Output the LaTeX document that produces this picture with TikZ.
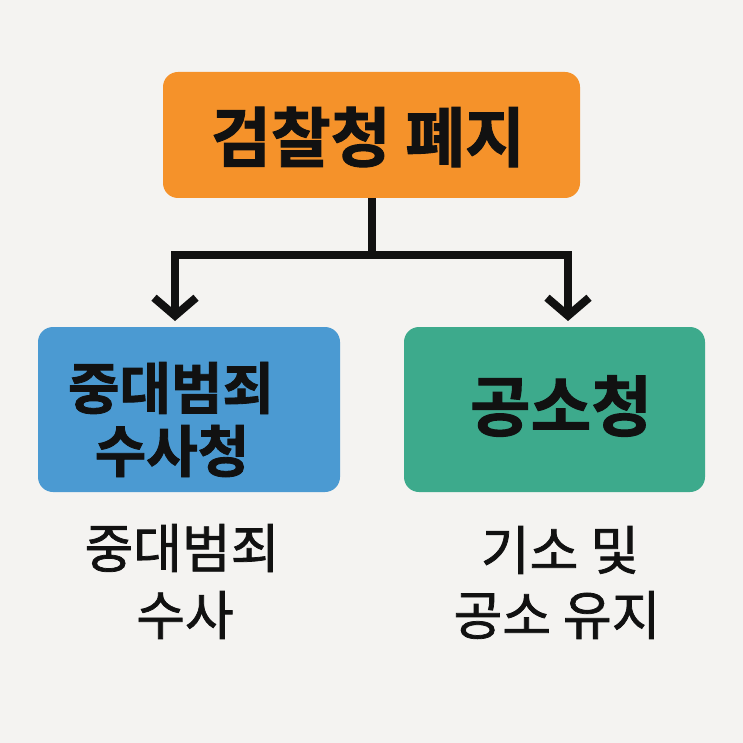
\documentclass[tikz,border=0pt]{standalone}
\usepackage{fontspec}
\usetikzlibrary{arrows.meta}
\newfontfamily\krb{Noto Sans CJK KR Bold}[FakeBold=1.5]
\newfontfamily\krr{Noto Sans CJK KR}[FakeBold=1.4]
\definecolor{bg}{HTML}{F4F3F1}
\definecolor{orng}{HTML}{F5922A}
\definecolor{blu}{HTML}{4B9AD2}
\definecolor{grn}{HTML}{3DAA8C}
\definecolor{ink}{HTML}{111111}
\begin{document}
\begin{tikzpicture}[x=1pt,y=-1pt,
  box/.style={draw=none,rounded corners=15pt,inner sep=0pt},
  boxtxt/.style={font=\krb\fontsize{#1}{#1}\selectfont,text=ink,inner sep=0pt,anchor=center},
  lbl/.style={font=\krr\fontsize{53}{53}\selectfont,text=ink,inner sep=0pt,anchor=center},
  conn/.style={draw=ink,line width=8pt,line join=miter},
  tip/.style={-{Straight Barb[length=18pt,width=42pt,line width=8pt]}}]
\fill[bg] (0,0) rectangle (743,743);
\useasboundingbox (0,0) rectangle (743,743);
% boxes
\node[box,fill=orng,minimum width=417pt,minimum height=126pt] (top) at (371.5,135) {};
\node[box,fill=blu,minimum width=302pt,minimum height=165pt] (left) at (189,409.5) {};
\node[box,fill=grn,minimum width=301pt,minimum height=165pt] (right) at (554.5,409.5) {};
% box texts
\node[boxtxt=65] (ttop) at (368,137) {검찰청 폐지};
\node[boxtxt=56] (tl1) at (171,388) {중대범죄};
\node[boxtxt=56] (tl2) at (172,451) {수사청};
\node[boxtxt=66] (tr) at (561,406) {공소청};
% labels below
\node[lbl] (ll1) at (182,548) {중대범죄};
\node[lbl] (ll2) at (185,615) {수사};
\node[lbl] (lr1) at (560,550) {기소 및};
\node[lbl] (lr2) at (557,615) {공소 유지};
% connectors
\coordinate (j) at (371.5,255);
\coordinate (lt) at (175,321);
\coordinate (rt) at (568,321);
\draw[conn] (top.south) -- (j);
\draw[conn,tip] (j) -| (lt);
\draw[conn,tip] (j) -| (rt);
\end{tikzpicture}
\end{document}
